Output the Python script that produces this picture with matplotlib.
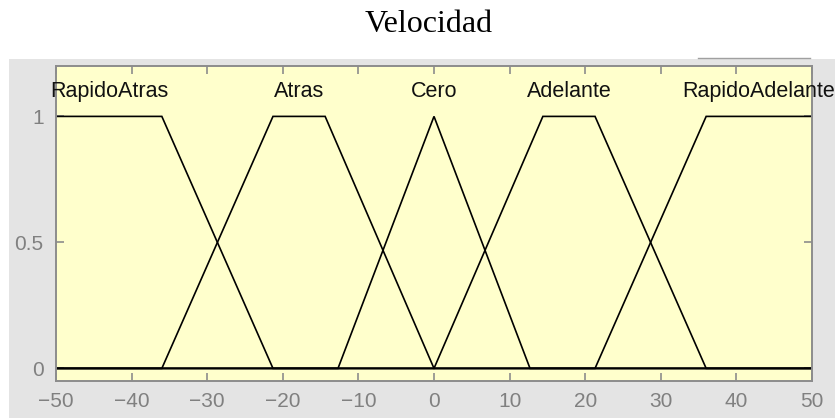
import numpy as np
import matplotlib
matplotlib.use("Agg")
import matplotlib.pyplot as plt
from matplotlib.patches import Rectangle
from matplotlib.lines import Line2D

title = "Velocidad"
mf_names = ["RapidoAtras", "Atras", "Cero", "Adelante", "RapidoAdelante"]
# trapezoid parameters [a, b, c, d]
mf_rapidoatras = [-50, -50, -36, -21.3]
mf_atras = [-36, -21.3, -14.4, 0]
mf_cero = [-12.7, 0, 0, 12.7]
mf_adelante = [0, 14.4, 21.3, 36]
mf_rapidoadelante = [21.3, 36, 50, 50]
mf_params = [mf_rapidoatras, mf_atras, mf_cero, mf_adelante, mf_rapidoadelante]
x_ticks = [-50, -40, -30, -20, -10, 0, 10, 20, 30, 40, 50]
y_ticks = [0, 0.5, 1]
y_tick_labels = ["0", "0.5", "1"]

def trapmf(x, p):
    a, b, c, d = p
    up = np.ones_like(x) if b == a else np.clip((x - a) / (b - a), 0, 1)
    down = np.ones_like(x) if d == c else np.clip((d - x) / (d - c), 0, 1)
    y = np.minimum(up, down)
    if a == b:
        y[x < a] = 0
    if c == d:
        y[x > d] = 0
    return y

W, H = 835, 418
fig = plt.figure(figsize=(W / 100, H / 100), dpi=100)
fig.patch.set_facecolor("white")
fig.add_artist(Rectangle((9 / W, 0), 1 - 9 / W, (H - 59) / H, transform=fig.transFigure,
                         facecolor="#e4e4e4", edgecolor="none", zorder=0))
fig.add_artist(Line2D([698 / W, 810 / W], [1 - 58 / H, 1 - 58 / H], transform=fig.transFigure,
                      color="#a0a0a0", lw=1.0))

ax = fig.add_axes([56 / W, (H - 381) / H, (812 - 56) / W, (381 - 66) / H])
ax.set_facecolor("#ffffcc")
ax.set_xlim(-50, 50)
ax.set_ylim(-0.05, 1.2)

x = np.linspace(-50, 50, 2001)
for name, p in zip(mf_names, mf_params):
    y = trapmf(x, p)
    ax.plot(x, y, color="black", lw=1.2, solid_joinstyle="miter")
    cx = (p[1] + p[2]) / 2
    ax.text(cx, 1.1, name, ha="center", va="center", fontsize=15.5,
            family="Liberation Sans", color="#111111", clip_on=False)

gray = "#8c8c8c"
ax.set_xticks(x_ticks)
ax.set_yticks(y_ticks)
ax.set_yticklabels(y_tick_labels)
ax.tick_params(direction="in", length=5.5, width=1.2, color=gray, labelcolor="#808080",
               labelsize=15, top=True, right=True)
ax.tick_params(axis="x", pad=8)
ax.tick_params(axis="y", pad=9)
for lab in ax.get_xticklabels() + ax.get_yticklabels():
    lab.set_family("Liberation Sans")
for s in ax.spines.values():
    s.set_color(gray)
    s.set_linewidth(1.4)

fig.text(428.5 / W, 1 - 24 / H, title, ha="center", va="center", fontsize=23,
         family="Liberation Serif", color="black")

fig.savefig("out.png", dpi=100)
